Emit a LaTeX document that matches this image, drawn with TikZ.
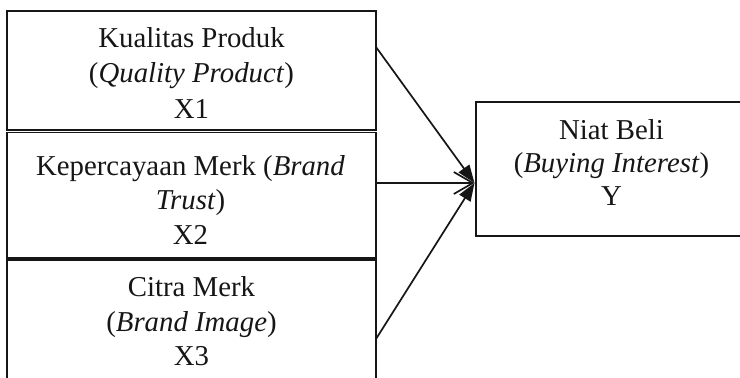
\documentclass[tikz,border=0pt]{standalone}
\usepackage{fontspec}
\setmainfont{Liberation Serif}
\usetikzlibrary{arrows.meta,calc}
\definecolor{ink}{HTML}{161616}
\tikzset{
  frame/.style={draw=ink, line width=1.8pt, inner sep=0pt, outer sep=0pt, anchor=north west},
  caption/.style={inner sep=0pt, outer sep=0pt, anchor=base, text=ink},
  link/.style={draw=ink, line width=1.7pt},
  solidhead/.style={-{Triangle[length=18pt,width=13pt]}},
  openhead/.style={-{Straight Barb[length=19pt,width=22pt,line width=1.7pt]}},
}
% centred block of lines; its baseline is that of the first line
\newcommand{\celltext}[3]{\parbox[t]{#1}{\centering\fontsize{28.8}{#2}\selectfont #3}}
\begin{document}
\begin{tikzpicture}[x=1pt,y=-1pt]
  \useasboundingbox (0,0) rectangle (740,378);
  \fill[white] (0,0) rectangle (740,378);
  \clip (0,0) rectangle (740,378);

  % variable boxes (left column) and the dependent variable box
  \node[frame, minimum width=369pt, minimum height=119pt]   (b1) at (7,11) {};
  \node[frame, minimum width=369pt, minimum height=125.5pt] (b2) at (7,132.5) {};
  \node[frame, minimum width=369pt, minimum height=150pt]   (b3) at (7,260) {};
  \node[frame, minimum width=272pt, minimum height=134.3pt] (by) at (476,101.7) {};

  % texts
  \node[caption] (t1) at (191.5,47.3)
    {\celltext{360pt}{35.5pt}{Kualitas Produk\\(\textit{Quality Product})\\X1}};
  \node[caption] (t2) at (190.5,175)
    {\celltext{360pt}{34.5pt}{Kepercayaan Merk (\textit{Brand}\\\textit{Trust})\\X2}};
  \node[caption] (t3) at (191.5,296.5)
    {\celltext{360pt}{34.5pt}{Citra Merk\\(\textit{Brand Image})\\X3}};
  \node[caption] (ty) at (611.5,139.3)
    {\celltext{260pt}{33.2pt}{Niat Beli\\(\textit{Buying Interest})\\Y}};

  % connector end points on the box edges
  \coordinate (s1) at ($(b1.north east)+(0,36)$);
  \coordinate (s2) at ($(b2.north east)+(0,50.5)$);
  \coordinate (s3) at ($(b3.north east)+(0,79)$);
  \coordinate (tip) at ($(by.north west)+(-1.5,81.3)$);

  % arrows
  \draw[link, solidhead] (s1) -- (tip);
  \draw[link, solidhead] (s3) -- (tip);
  \draw[link, openhead]  (s2) -- (tip);
\end{tikzpicture}
\end{document}
